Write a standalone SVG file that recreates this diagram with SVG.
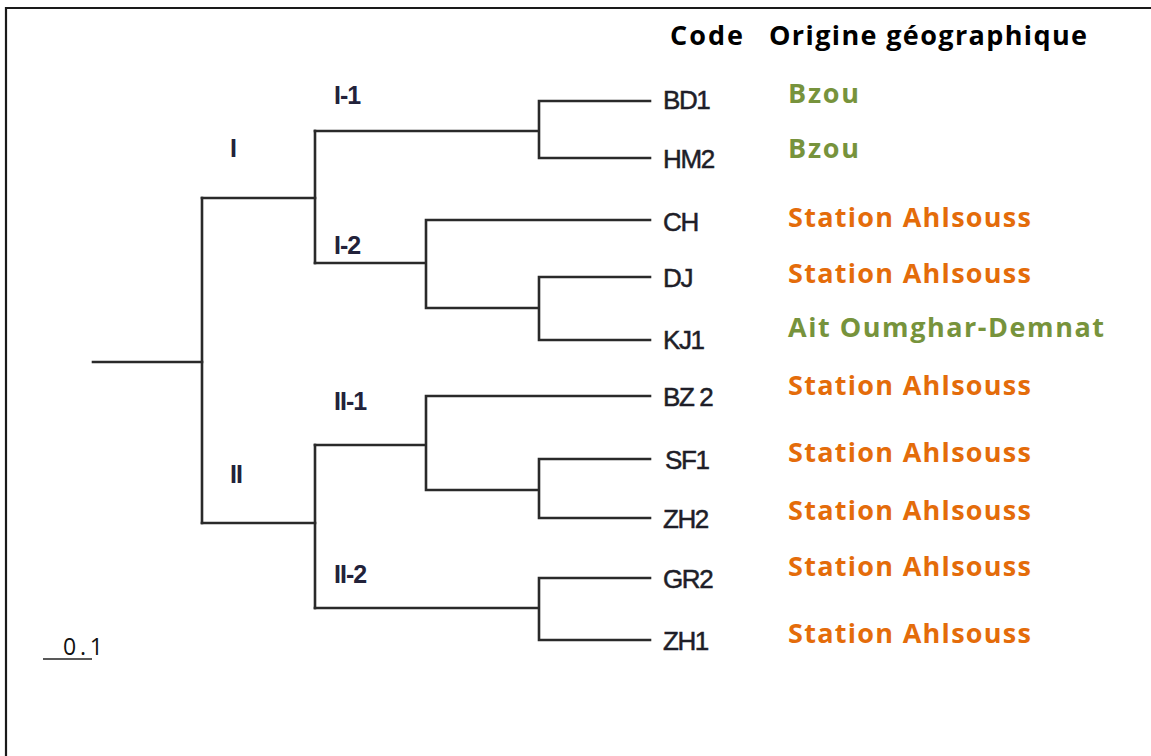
<svg xmlns="http://www.w3.org/2000/svg" width="1151" height="756" viewBox="0 0 1151 756">
<style>
.frame{stroke:#1a1a1a;stroke-width:2.2;fill:none}
.br{stroke:#2a2a2a;stroke-width:2.6;fill:none;stroke-linecap:square}
.leaf{font-family:"Liberation Sans",Arial,sans-serif;font-size:26px;fill:#1e1e28;stroke:#1e1e28;stroke-width:0.5;letter-spacing:-1.4px}
.cl{font-family:"Liberation Sans",Arial,sans-serif;font-weight:bold;font-size:25px;fill:#22223a;letter-spacing:-1px}
.hd{font-family:"Open Sans","Noto Sans",sans-serif;font-weight:bold;font-size:27px;fill:#000}
.org{font-family:"Open Sans","Noto Sans",sans-serif;font-weight:bold;font-size:27px}
.g{fill:#77933C}
.o{fill:#E46C0A}
.sc{font-family:"Open Sans","Noto Sans",sans-serif;font-size:23px;fill:#111}
</style>
<rect width="1151" height="756" fill="#fff"/>
<path class="frame" d="M6,756 V8 H1151"/>
<g id="connectors">
<path class="br" d="M93,362 H202"/>
<path class="br" d="M202,198 V523"/>
<path class="br" d="M202,198 H315 M202,523 H315"/>
<path class="br" d="M315,131 V263"/>
<path class="br" d="M315,131 H539 M539,101 V158 M539,101 H650 M539,158 H650"/>
<path class="br" d="M315,263 H426 M426,220 V308 M426,220 H650 M426,308 H539 M539,277 V340 M539,277 H650 M539,340 H650"/>
<path class="br" d="M315,445 V608"/>
<path class="br" d="M315,445 H426 M426,396 V490 M426,396 H650 M426,490 H539 M539,459 V518 M539,459 H650 M539,518 H650"/>
<path class="br" d="M315,608 H539 M539,578 V640 M539,578 H650 M539,640 H650"/>
</g>
<g id="clusters">
<text class="cl" x="230" y="157">I</text>
<text class="cl" x="334" y="104">I-1</text>
<text class="cl" x="334" y="254">I-2</text>
<text class="cl" x="230" y="483">II</text>
<text class="cl" x="334" y="410">II-1</text>
<text class="cl" x="334" y="583">II-2</text>
</g>
<g id="header">
<text class="hd" x="670" y="45" textLength="73">Code</text>
<text class="hd" x="769" y="45" textLength="318">Origine géographique</text>
</g>
<g id="leaf-BD1"><text class="leaf" x="663" y="109">BD1</text><text class="org g" x="788" y="103" textLength="71">Bzou</text></g>
<g id="leaf-HM2"><text class="leaf" x="663" y="168">HM2</text><text class="org g" x="788" y="158" textLength="71">Bzou</text></g>
<g id="leaf-CH"><text class="leaf" x="663" y="231">CH</text><text class="org o" x="788" y="227" textLength="243">Station Ahlsouss</text></g>
<g id="leaf-DJ"><text class="leaf" x="663" y="287">DJ</text><text class="org o" x="788" y="283" textLength="243">Station Ahlsouss</text></g>
<g id="leaf-KJ1"><text class="leaf" x="663" y="349">KJ1</text><text class="org g" x="788" y="337" textLength="316">Ait Oumghar-Demnat</text></g>
<g id="leaf-BZ2"><text class="leaf" x="663" y="406">BZ 2</text><text class="org o" x="788" y="395" textLength="243">Station Ahlsouss</text></g>
<g id="leaf-SF1"><text class="leaf" x="665" y="469">SF1</text><text class="org o" x="788" y="462" textLength="243">Station Ahlsouss</text></g>
<g id="leaf-ZH2"><text class="leaf" x="663" y="528">ZH2</text><text class="org o" x="788" y="520" textLength="243">Station Ahlsouss</text></g>
<g id="leaf-GR2"><text class="leaf" x="663" y="588">GR2</text><text class="org o" x="788" y="576" textLength="243">Station Ahlsouss</text></g>
<g id="leaf-ZH1"><text class="leaf" x="663" y="650">ZH1</text><text class="org o" x="788" y="643" textLength="243">Station Ahlsouss</text></g>
<g id="scale">
<path d="M43,659 H92" stroke="#222" stroke-width="1.3"/>
<text class="sc" x="63" y="655" textLength="40">0.1</text>
</g>
</svg>
